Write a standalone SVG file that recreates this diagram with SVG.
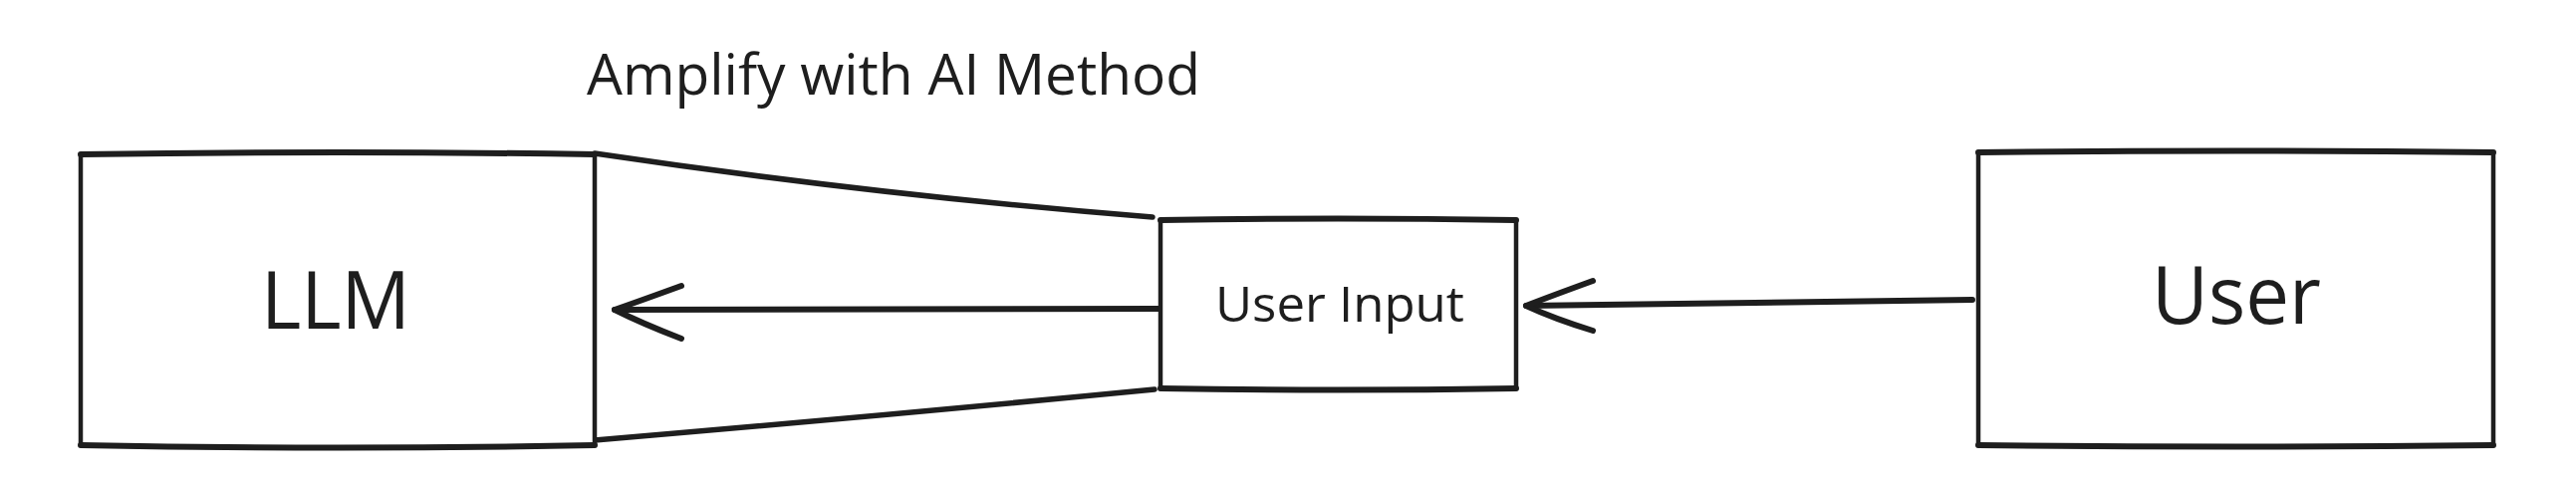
<svg xmlns="http://www.w3.org/2000/svg" width="2586" height="488" viewBox="0 0 2586 488">
  <style>
    .box { fill: #ffffff; stroke: #1e1e1e; stroke-width: 4.5; stroke-linejoin: round; stroke-linecap: round; }
    .edge { fill: none; stroke: #1e1e1e; stroke-width: 6; stroke-linecap: round; stroke-linejoin: round; }
    .fan { fill: none; stroke: #1e1e1e; stroke-width: 5.5; stroke-linecap: round; }
    .lbl { font-family: "Open Sans", "Noto Sans", "Liberation Sans", sans-serif; font-weight: 500; fill: #1e1e1e; }
  </style>
  <rect width="2586" height="488" fill="#ffffff"/>

  <text class="lbl" x="589" y="95" font-size="56" textLength="616" lengthAdjust="spacingAndGlyphs">Amplify with AI Method</text>

  <g id="connectors">
    <path class="fan" d="M597 154 Q 880 196 1157 218"/>
    <path class="fan" d="M597 442 Q 880 418 1159 391"/>
    <path class="edge" d="M1165 310 L 617 311"/>
    <path class="edge" d="M684 287 Q 640 303 617 311 Q 645 325 684 340"/>
    <path class="edge" d="M1980 301 L 1532 307"/>
    <path class="edge" d="M1599 282 Q 1555 298 1532 307 Q 1560 320 1599 332"/>
  </g>

  <g id="node-llm">
    <path class="box" d="M81 155 Q 340 151 597 155 L 597 447 Q 340 452 81 447 Z"/>
    <path class="edge" d="M81 155 Q 340 151 597 155 M81 447 Q 340 452 597 447"/>
    <text class="lbl" x="262" y="330" font-size="80" textLength="150" lengthAdjust="spacingAndGlyphs">LLM</text>
  </g>

  <g id="node-user-input">
    <path class="box" d="M1165 221 Q 1343 218 1522 221 L 1522 390 Q 1343 393 1165 390 Z"/>
    <path class="edge" d="M1165 221 Q 1343 218 1522 221 M1165 390 Q 1343 393 1522 390" stroke-width="5"/>
    <text class="lbl" x="1220" y="323" font-size="50" textLength="250" lengthAdjust="spacingAndGlyphs">User Input</text>
  </g>

  <g id="node-user">
    <path class="box" d="M1986 153 Q 2244 150 2503 153 L 2503 447 Q 2244 450 1986 447 Z"/>
    <path class="edge" d="M1986 153 Q 2244 150 2503 153 M1986 447 Q 2244 450 2503 447" stroke-width="5"/>
    <text class="lbl" x="2160" y="325" font-size="80" textLength="170" lengthAdjust="spacingAndGlyphs">User</text>
  </g>
</svg>
